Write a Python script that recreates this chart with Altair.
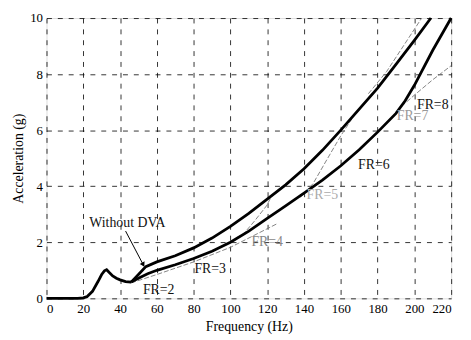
import altair as alt
import pandas as pd

# Shared low-frequency part (0-46 Hz)
freq_base = [0, 10, 17, 20, 22, 25, 28, 30, 31.5, 32.7, 34, 36, 38, 40, 43, 46]
acc_base = [0, 0, 0, 0.02, 0.06, 0.25, 0.6, 0.85, 0.98, 1.02, 0.93, 0.8, 0.72, 0.66, 0.6, 0.58]

# Without DVA (upper thick curve)
freq_upper = [46, 50, 54, 60, 70, 80, 90, 100, 110, 120, 130, 140, 150, 160, 170, 180, 190, 200, 209]
acc_upper = [0.58, 0.85, 1.13, 1.3, 1.52, 1.8, 2.15, 2.57, 3.03, 3.54, 4.05, 4.62, 5.28, 6.0, 6.75, 7.5, 8.35, 9.2, 10.0]

# Lower thick curve
freq_lower = [46, 50, 55, 60, 70, 80, 90, 100, 110, 120, 130, 140, 150, 160, 170, 180, 190, 195, 200, 210, 220]
acc_lower = [0.58, 0.72, 0.88, 1.0, 1.2, 1.42, 1.68, 2.0, 2.4, 2.85, 3.3, 3.75, 4.22, 4.73, 5.3, 5.93, 6.6, 7.05, 7.6, 8.85, 10.0]

# Thin FR curves (partial branches)
freq_thin_a = [46, 60, 80, 100, 125]
acc_thin_a = [0.55, 0.85, 1.3, 1.82, 2.65]
freq_thin_b = [103, 107, 113, 119.6, 123]
acc_thin_b = [2.15, 2.29, 2.75, 3.3, 3.72]
freq_thin_c = [138, 145, 152, 160, 166]
acc_thin_c = [3.6, 4.1, 4.9, 5.8, 6.4]
freq_thin_d = [193, 200, 210, 220]
acc_thin_d = [6.85, 7.25, 7.8, 8.3]
freq_thin_e = [175, 185, 195, 204]
acc_thin_e = [7.3, 8.1, 9.1, 10.0]

# Annotation labels
label_text = ["FR=2", "FR=3", "FR=4", "FR=5", "FR=6", "FR=7", "FR=8", "Without DVA"]
label_freq = [61, 89, 120, 150, 178, 199, 210, 44]
label_acc = [0.3, 1.03, 2.0, 3.7, 4.75, 6.5, 6.9, 2.67]
label_color = ["#111", "#111", "#888", "#aaa", "#111", "#999", "#111", "#111"]

arrow_freq = [43, 52.6]
arrow_acc = [2.4, 1.2]

x_ticks = list(range(0, 221, 20))
y_ticks = list(range(0, 11, 2))

FONT = "Liberation Serif"

def series(name, xs, ys):
    return pd.DataFrame({"freq": xs, "acc": ys, "series": name, "order": range(len(xs))})

thick = pd.concat([
    series("base", freq_base, acc_base),
    series("Without DVA", freq_upper, acc_upper),
    series("lower", freq_lower, acc_lower),
])
thin = pd.concat([
    series("a", freq_thin_a, acc_thin_a),
    series("b", freq_thin_b, acc_thin_b),
    series("c", freq_thin_c, acc_thin_c),
    series("d", freq_thin_d, acc_thin_d),
    series("e", freq_thin_e, acc_thin_e),
])
labels = pd.DataFrame({"text": label_text, "freq": label_freq, "acc": label_acc, "color": label_color})
arrow = pd.DataFrame({"freq": arrow_freq, "acc": arrow_acc, "order": [0, 1]})
arrow_tip = arrow.iloc[[1]]

xs = alt.Scale(domain=[0, 220], nice=False)
ys = alt.Scale(domain=[0, 10], nice=False)

xax = alt.Axis(values=x_ticks, title="Frequency (Hz)", labelPadding=4, titlePadding=5,
               labelOverlap=False)
yax = alt.Axis(values=y_ticks, title="Acceleration (g)", labelPadding=4, titlePadding=4,
               labelOverlap=False)

X = alt.X("freq:Q", scale=xs, axis=xax)
Y = alt.Y("acc:Q", scale=ys, axis=yax)

thin_layer = alt.Chart(thin).mark_line(color="#777", strokeWidth=0.9, strokeDash=[5, 2]).encode(
    x=X, y=Y, detail="series:N", order="order:Q",
)
thick_layer = alt.Chart(thick).mark_line(color="#000", strokeWidth=2.8).encode(
    x=X, y=Y, detail="series:N", order="order:Q",
)
arrow_line = alt.Chart(arrow).mark_line(color="#000", strokeWidth=1).encode(
    x=X, y=Y, order="order:Q"
)
arrow_head = alt.Chart(arrow_tip).mark_point(shape="triangle-up", filled=True, color="#000",
                                             size=30, angle=152, opacity=1).encode(x=X, y=Y)
text_layer = alt.Chart(labels).mark_text(font=FONT, fontSize=14, align="center", baseline="middle").encode(
    x=X, y=Y, text="text:N", color=alt.Color("color:N", scale=None),
)

chart = alt.layer(thin_layer, thick_layer, arrow_line, arrow_head, text_layer).properties(
    width=410, height=284,
    autosize=alt.AutoSizeParams(type="none"),
    padding={"left": 39, "top": 8, "right": 12, "bottom": 38},
).configure_view(stroke="#000", strokeWidth=1.2).configure(background="white").configure_axis(
    grid=True, gridDash=[5, 6], gridColor="#000", gridOpacity=1, gridWidth=0.8,
    tickSize=0, domain=False, labelFontSize=13, titleFontSize=14,
    titleFontWeight="normal", labelFont=FONT, titleFont=FONT,
    labelColor="#000", titleColor="#000", labelOverlap=False,
)

chart.save("out.html", embed_options={"renderer": "svg", "actions": False})
